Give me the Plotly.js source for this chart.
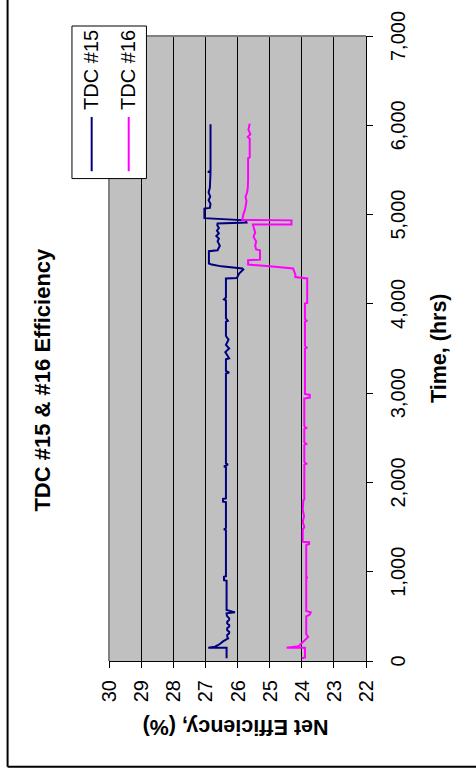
<!DOCTYPE html>
<html>
<head>
<meta charset="utf-8">
<script src="https://cdn.plot.ly/plotly-3.0.1.min.js"></script>
<style>
html,body{margin:0;padding:0;overflow:hidden;background:#fff;width:476px;height:780px;}
#wrap{position:absolute;left:0;top:0;width:780px;height:476px;transform-origin:0 0;transform:translateY(780px) rotate(-90deg);}
#chart{width:780px;height:476px;}
</style>
</head>
<body>
<div id="wrap"><div id="chart"></div></div>
<script>
// ---- data (time in hours, net efficiency in %) ----
const seriesNames = ['TDC #15', 'TDC #16'];
const hours15 = [30,149,149,160,190,220,254,272,291,310,328,345,366,385,403,420,440,460,478,505,534,545,571,899,905,944,950,1466,1475,1490,1780,1785,1815,1820,2170,2180,2200,2215,3220,3230,3250,3380,3390,3420,3460,3500,3540,3600,3640,3800,3810,3840,4040,4050,4070,4284,4290,4340,4385,4396,4420,4440,4452,4590,4600,4650,4700,4730,4760,4790,4820,4850,4880,4900,4912,4935,4960,5067,5075,5120,5160,5200,5250,5300,5384,5470,5478,5490,6011];
const eff15 = [26.34,26.34,26.91,26.7,26.55,26.45,26.29,26.32,26.32,26.26,26.26,26.32,26.32,26.26,26.26,26.32,26.32,26.26,26.26,26.33,26.34,26.08,26.34,26.34,26.42,26.42,26.36,26.36,26.42,26.36,26.36,26.45,26.45,26.36,26.36,26.42,26.3,26.36,26.36,26.26,26.36,26.36,26.26,26.32,26.38,26.26,26.36,26.28,26.36,26.36,26.3,26.36,26.36,26.42,26.36,26.36,26.02,25.95,25.82,25.85,26.5,26.8,26.89,26.89,26.62,26.55,26.62,26.58,26.66,26.58,26.64,26.58,26.63,26.62,25.72,25.74,27.03,27.03,26.86,26.84,26.9,26.85,26.9,26.86,26.84,26.84,26.92,26.84,26.84];
const hours16 = [30,40,149,149,165,200,235,270,300,500,520,545,560,930,935,945,1300,1310,1330,1335,1470,1500,1560,1620,1700,1800,1810,2200,2210,2230,2420,2430,2450,2600,2610,2630,2940,2950,2980,2990,3500,3510,3530,3800,3810,3830,4004,4010,4284,4290,4300,4330,4396,4420,4440,4489,4495,4600,4610,4650,4700,4750,4800,4860,4888,4890,4935,4940,5000,5050,5100,5150,5200,5250,5300,5384,5630,5640,5850,5870,5900,5950,6019];
const eff16 = [24.0,23.9,23.9,24.47,24.1,24.0,23.9,23.8,23.86,23.86,23.75,23.72,23.86,23.86,23.82,23.86,23.86,23.77,23.77,23.97,23.97,23.92,23.97,23.93,23.97,23.95,23.92,23.92,23.86,23.92,23.92,23.86,23.92,23.92,23.86,23.92,23.92,23.75,23.75,23.9,23.9,23.85,23.9,23.9,23.85,23.9,23.9,23.83,23.83,24.0,24.2,24.2,24.27,25.0,25.67,25.67,25.3,25.3,25.42,25.45,25.42,25.5,25.45,25.5,25.52,24.32,24.32,25.85,25.82,25.77,25.75,25.72,25.75,25.7,25.68,25.67,25.67,25.62,25.62,25.68,25.6,25.66,25.62];
const timeTickVals = [0,1000,2000,3000,4000,5000,6000,7000];
const timeTickText = ['0','1,000','2,000','3,000','4,000','5,000','6,000','7,000'];
const effTickVals = [22,23,24,25,26,27,28,29,30];
const seriesColors = ['#000080', '#FF00FF'];

const FONT = 'Arial, "Liberation Sans", sans-serif';

const traces = [
  {x: hours15, y: eff15, name: seriesNames[0], type: 'scatter', mode: 'lines',
   line: {color: seriesColors[0], width: 2}},
  {x: hours16, y: eff16, name: seriesNames[1], type: 'scatter', mode: 'lines',
   line: {color: seriesColors[1], width: 2}}
];

const shapes = [
  // plot-area border (top & right in unrotated frame)
  {type:'line', xref:'paper', yref:'paper', x0:0, x1:1, y0:1, y1:1, line:{color:'#808080', width:2}, layer:'above'},
  {type:'line', xref:'paper', yref:'paper', x0:1, x1:1, y0:0, y1:1, line:{color:'#808080', width:2}, layer:'above'},
  // chart area border
  {type:'line', xref:'paper', yref:'paper', x0:-0.169, x1:1.2, y0:1.3946, y1:1.3946, line:{color:'#000000', width:2}},
  {type:'line', xref:'paper', yref:'paper', x0:-0.169, x1:-0.169, y0:1.3946, y1:-0.6, line:{color:'#000000', width:2}},
  // legend box
  {type:'rect', xref:'paper', yref:'paper', x0:0.7719, x1:1.016, y0:0.8543, y1:1.1441,
   fillcolor:'#ffffff', line:{color:'#000000', width:1}, layer:'above'},
  {type:'line', xref:'paper', yref:'paper', x0:0.7836, x1:0.8705, y0:1.0674, y1:1.0674, line:{color:seriesColors[0], width:2}, layer:'above'},
  {type:'line', xref:'paper', yref:'paper', x0:0.7836, x1:0.8705, y0:0.9233, y1:0.9233, line:{color:seriesColors[1], width:2}, layer:'above'}
];

const annotations = [
  {text: seriesNames[0], xref:'paper', yref:'paper', x:0.8785, y:1.0686, xanchor:'left', yanchor:'middle',
   showarrow:false, font:{family:FONT, size:20, color:'#000'}},
  {text: seriesNames[1], xref:'paper', yref:'paper', x:0.8785, y:0.927, xanchor:'left', yanchor:'middle',
   showarrow:false, font:{family:FONT, size:20, color:'#000'}},
  {text: '<b>Time, (hrs)</b>', xref:'paper', yref:'paper', x:0.5, y:-0.2844, xanchor:'center', yanchor:'middle',
   showarrow:false, font:{family:FONT, size:21.5, color:'#000'}},
  {text: '<b>Net Efficiency, (%)</b>', xref:'paper', yref:'paper', x:-0.1063, y:0.506, xanchor:'center', yanchor:'middle',
   textangle:-90, showarrow:false, font:{family:FONT, size:21.5, color:'#000'}}
];

const layout = {
  width: 780, height: 476,
  margin: {l:119, r:36, t:109, b:110, pad:0},
  paper_bgcolor: '#ffffff',
  plot_bgcolor: '#C0C0C0',
  showlegend: false,
  title: {text: '<b>TDC #15 & #16 Efficiency</b>', x:0.4494, xref:'paper', xanchor:'center',
          y: 1 - 42/476, yref:'container', yanchor:'middle',
          font:{family:FONT, size:22, color:'#000'}},
  font: {family: FONT, color:'#000'},
  xaxis: {range:[0,7000], tickvals: timeTickVals, ticktext: timeTickText, showgrid:false, zeroline:false,
          showline:true, linecolor:'#000', linewidth:1, ticks:'outside', ticklen:6, tickcolor:'#000',
          tickfont:{family:FONT, size:20, color:'#000'}, ticklabelstandoff: 8},
  yaxis: {range:[22,30], tickvals: effTickVals, showgrid:true, gridcolor:'#000', gridwidth:1, zeroline:false,
          showline:true, linecolor:'#000', linewidth:1, ticks:'outside', ticklen:6, tickcolor:'#000',
          tickfont:{family:FONT, size:20, color:'#000'}, ticklabelstandoff: 8},
  shapes: shapes,
  annotations: annotations
};

Plotly.newPlot('chart', traces, layout, {displayModeBar:false, staticPlot:true});
</script>
</body>
</html>
